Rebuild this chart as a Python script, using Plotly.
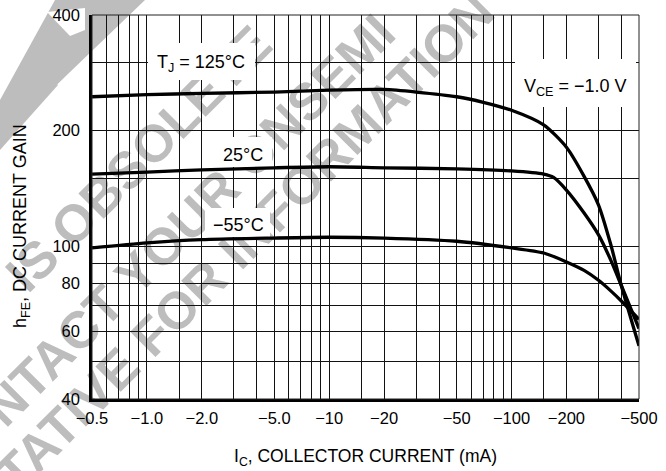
import plotly.graph_objects as go

# ---------------- data (collector current in mA, magnitude; hFE) ----------------
x_125 = [0.5, 1, 2, 5, 10, 20, 30, 50, 70, 100, 150, 200, 250, 300, 350, 400, 500]
y_125 = [245, 248, 250, 252, 255, 256, 252, 245, 237, 226, 207, 181, 152, 128, 101, 79, 55]

x_25 = [0.5, 1, 2, 5, 10, 20, 50, 100, 150, 170, 200, 250, 300, 350, 400, 500]
y_25 = [154, 156, 158, 160, 161, 160, 159, 157, 154, 151, 140, 122, 107, 92, 79, 61]

x_m55 = [0.5, 1, 2, 5, 10, 20, 50, 100, 150, 200, 250, 300, 350, 400, 500]
y_m55 = [99, 102, 104, 105, 105.5, 105, 103, 99, 96, 91, 86.5, 81.5, 76.5, 72, 64.5]

x_tickvals = [0.5, 1, 2, 5, 10, 20, 50, 100, 200, 500]
x_ticktext = ["−0.5", "−1.0", "−2.0", "−5.0", "−10", "−20", "−50", "−100", "−200", "−500"]
x_minor = [0.6, 0.7, 0.8, 0.9, 1.5, 3, 4, 6, 7, 8, 9, 15, 30, 40, 60, 70, 80, 90, 150, 300, 400]

y_tickvals = [40, 60, 80, 100, 200, 400]
y_ticktext = ["40", "60", "80", "100", "200", "400"]
y_minor = [50, 70, 90, 150, 300]

wm_texts = ["IS OBSOLETE", "CONTACT YOUR ONSEMI", "REPRESENTATIVE FOR INFORMATION"]

# ---------------- layout geometry (screen pixels) ----------------
W, H = 666, 471
SL, ST, SR, SB = 92, 15, 639, 399
ML, MT, MR, MB = SL, ST, W - SR, H - SB
PW, PH = SR - SL, SB - ST
XLO, XHI = -0.30103, 2.6989701
YLO, YHI = 1.60206, 2.6020601


def px(X):
    return (X - SL) / PW


def py(Y):
    return (SB - Y) / PH


def dx(X):  # screen pixel -> data value on the log x axis
    return 10 ** (XLO + px(X) * (XHI - XLO))


def dy(Y):  # screen pixel -> data value on the log y axis
    return 10 ** (YLO + py(Y) * (YHI - YLO))


FONT = "Liberation Sans, Arial, sans-serif"
GRAY = "#bdbdbd"
GRID = "#111111"

fig = go.Figure()
for xs, ys in [(x_125, y_125), (x_25, y_25), (x_m55, y_m55)]:
    fig.add_trace(go.Scatter(x=xs, y=ys, mode="lines", showlegend=False,
                             line=dict(color="black", width=3.3, shape="spline", smoothing=0.7),
                             hoverinfo="skip"))

axis_common = dict(type="log", showgrid=True, gridcolor=GRID, gridwidth=1.2,
                   zeroline=False, showline=True, linecolor="black", linewidth=2.5,
                   tickcolor="rgba(0,0,0,0)",
                   tickfont=dict(family=FONT, size=16.5, color="black"))

fig.update_xaxes(range=[XLO, XHI], tickmode="array", tickvals=x_tickvals,
                 ticktext=x_ticktext, ticks="outside", ticklen=2,
                 minor=dict(tickvals=x_minor, showgrid=True, gridcolor=GRID, gridwidth=1.2,
                            ticks=""),
                 **axis_common)
fig.update_yaxes(range=[YLO, YHI], tickmode="array", tickvals=y_tickvals,
                 ticktext=y_ticktext, ticks="outside", ticklen=6,
                 minor=dict(tickvals=y_minor, showgrid=True, gridcolor=GRID, gridwidth=1.2,
                            ticks=""),
                 **axis_common)

shapes = []
# top-left gray banner fragment
shapes.append(dict(type="path", xref="paper", yref="paper", layer="below",
                   path=f"M {px(55)},{py(0)} L {px(145)},{py(0)} L {px(70)},{py(72)} "
                        f"L {px(0)},{py(140)} L {px(0)},{py(100)} Z",
                   fillcolor=GRAY, line=dict(width=0)))
shapes.append(dict(type="path", xref="paper", yref="paper", layer="below",
                   path=f"M {px(40)},{py(70)} L {px(58)},{py(85)} L {px(0)},{py(150)} "
                        f"L {px(0)},{py(115)} Z",
                   fillcolor=GRAY, line=dict(width=0)))
shapes.append(dict(type="path", xref="paper", yref="paper", layer="below",
                   path=f"M {px(47)},{py(12)} L {px(85)},{py(8)} L {px(85)},{py(30)} "
                        f"L {px(70)},{py(36)} Z",
                   fillcolor="white", line=dict(width=0)))

# watermark text (drawn beneath gridlines and curves)
wm_pos = [(135, 155), (158, 244), (140, 340)]
for txt, (cx, cy) in zip(wm_texts, wm_pos):
    shapes.append(dict(type="rect", xref="paper", yref="paper", layer="below",
                       x0=px(cx - 1), x1=px(cx + 1), y0=py(cy + 1), y1=py(cy - 1),
                       line=dict(width=0), fillcolor="rgba(0,0,0,0)",
                       label=dict(text=txt, textangle=-45, textposition="middle center",
                                  font=dict(family=FONT, size=52, color=GRAY,
                                            weight="bold"))))

# white label boxes hiding the grid (between grid and curves)
boxes = [(148, 43, 255, 80), (214, 137, 272, 167), (205, 208, 270, 237), (515, 59, 636, 107)]
for x0, y0, x1, y1 in boxes:
    shapes.append(dict(type="rect", xref="x", yref="y", layer="between",
                       x0=dx(x0), x1=dx(x1), y0=dy(y1), y1=dy(y0),
                       fillcolor="white", line=dict(width=0)))

# thin frame on top/right
shapes.append(dict(type="rect", xref="paper", yref="paper", x0=0, x1=1, y0=0, y1=1,
                   line=dict(color="#222", width=1), layer="above"))

LBL = dict(family=FONT, size=18, color="black")
annotations = [
    dict(text="T<sub>J</sub> = 125°C", x=px(201), y=py(63), font=LBL),
    dict(text="25°C", x=px(243), y=py(155), font=LBL),
    dict(text="−55°C", x=px(238), y=py(225), font=LBL),
    dict(text="V<sub>CE</sub> = −1.0 V", x=px(575), y=py(88), font=LBL),
    dict(text="h<sub>FE</sub>, DC CURRENT GAIN", x=px(21), y=py(226), textangle=-90,
         font=dict(family=FONT, size=18, color="black")),
    dict(text="I<sub>C</sub>, COLLECTOR CURRENT (mA)", x=px(365), y=py(457),
         font=dict(family=FONT, size=17.5, color="black")),
]
for a in annotations:
    a.update(xref="paper", yref="paper", showarrow=False, xanchor="center",
             yanchor="middle")

fig.update_layout(width=W, height=H, margin=dict(l=ML, r=MR, t=MT, b=MB, autoexpand=False),
                  paper_bgcolor="white", plot_bgcolor="rgba(0,0,0,0)",
                  shapes=shapes, annotations=annotations, showlegend=False)

fig.write_html("out.html", config={"displayModeBar": False},
               post_script="document.body.style.margin='0px';"
                           "document.body.style.overflow='hidden';")
